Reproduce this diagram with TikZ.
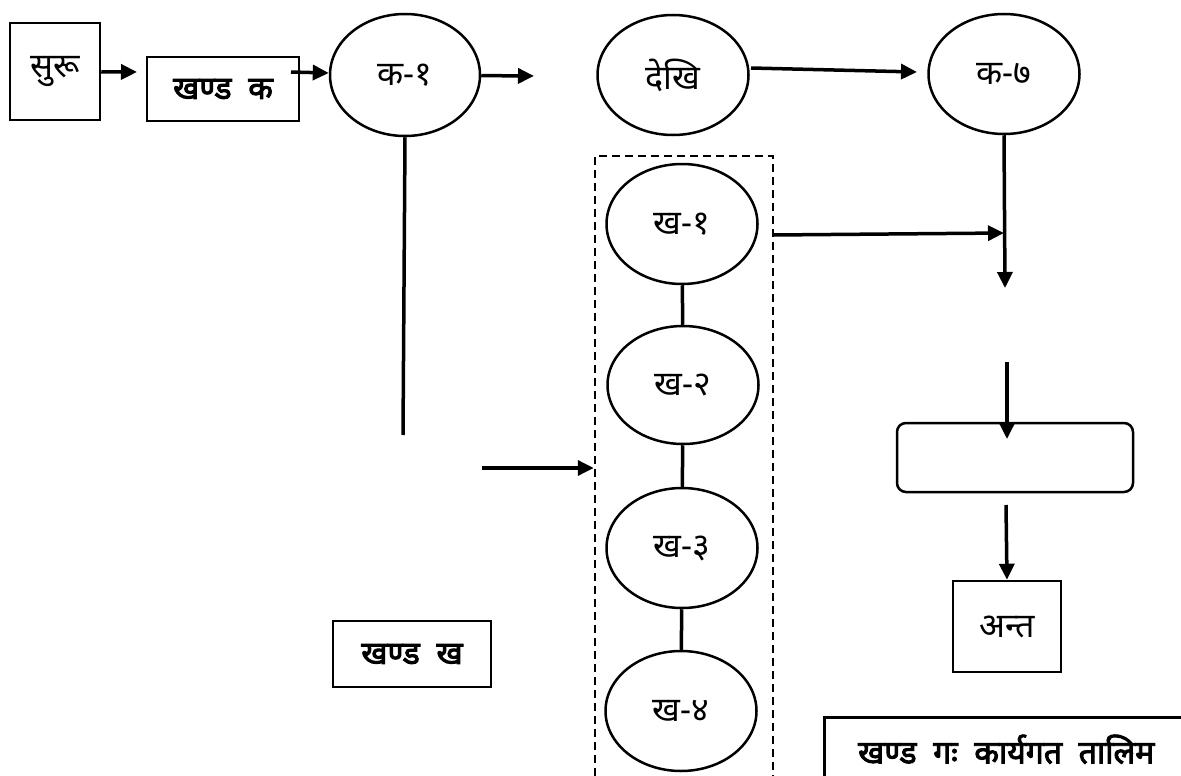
\documentclass[tikz,border=0pt]{standalone}
\usepackage{fontspec}
\newfontfamily\deva[Script=Devanagari]{Noto Sans}
\newfontfamily\devabold[Script=Devanagari,FakeBold=3,WordSpace=2]{Noto Sans}
\usepackage{tikz}
\usetikzlibrary{shapes.geometric,arrows.meta}
\tikzset{
  ell/.style={ellipse, draw, line width=2.5pt, minimum width=151pt, minimum height=120pt, inner sep=0pt, font=\deva\fontsize{34}{40}\selectfont},
  box/.style={rectangle, draw, line width=2.5pt, inner sep=0pt, font=\deva\fontsize{34}{40}\selectfont},
  boldbox/.style={box, font=\devabold\fontsize{32}{38}\selectfont},
  grp/.style={draw, line width=2.5pt, dash pattern=on 8pt off 5pt},
  arr/.style={line width=3.5pt, -{Triangle[length=16pt,width=15pt]}},
  conn/.style={line width=3.5pt},
}

\begin{document}
\begin{tikzpicture}[x=1pt,y=-1pt]
  \useasboundingbox (0,0) rectangle (1181,776);
  \node[box, minimum width=90pt, minimum height=97pt] (suru) at (55,71.5) {सुरू};
  \node[boldbox, minimum width=152pt, minimum height=64pt] (khka) at (223,89) {खण्ड क};
  \node[ell, minimum width=150pt, minimum height=122pt] (k1) at (405,75) {क-१};
  \node[ell] (dekhi) at (673,75) {देखि};
  \node[ell] (k7) at (1004,74) {क-७};
  \node[boldbox, minimum width=158pt, minimum height=66pt] (khkh) at (412,654) {खण्ड ख};
  \node[ell] (kh1) at (682,224) {ख-१};
  \node[ell, minimum height=118pt] (kh2) at (683,385) {ख-२};
  \node[ell] (kh3) at (682,548) {ख-३};
  \node[ell] (kh4) at (681,711) {ख-४};
  \node[box, rounded corners=9pt, minimum width=236pt, minimum height=69pt] (task) at (1015,457.5) {};
  \node[box, minimum width=108pt, minimum height=91pt] (anta) at (1007,626.5) {अन्त};
  \begin{scope}
    \clip (0,0) rectangle (1181,776);
    \node[grp, minimum width=178pt, minimum height=644pt] (grpkh) at (684,478) {};
    \node[boldbox, minimum width=364pt, minimum height=64pt, anchor=north west] (khga) at (823,716) {खण्ड गः कार्यगत तालिम};
  \end{scope}

  \coordinate (suru-tip) at (137,72);
  \coordinate (ka-out) at (291,72);
  \coordinate (k1-tip) at (534,76);
  \coordinate (d-out) at (751,68);
  \coordinate (k7-tip) at (917,72);
  \coordinate (k1-end) at (403,435);
  \coordinate (kb-out) at (482,468);
  \coordinate (kh1-out) at (773,235);
  \coordinate (k7-join) at (1004,233);
  \coordinate (k7-down) at (1005,288);
  \coordinate (r-in) at (1007,362);
  \coordinate (r-tip) at (1007,439);
  \coordinate (a-in) at (1006,505);

  \draw[arr] (suru) -- (suru-tip);
  \draw[arr] (ka-out) -- (k1);
  \draw[arr] (k1) -- (k1-tip);
  \draw[arr] (d-out) -- (k7-tip);
  \draw[conn] (k1.south) -- (k1-end);
  \draw[arr] (kb-out) -- (kb-out -| grpkh.west);
  \draw[conn] (kh1) -- (kh2);
  \draw[conn] (kh2) -- (kh3);
  \draw[conn] (kh3) -- (kh4);
  \draw[arr] (kh1-out) -- (k7-join);
  \draw[arr] (k7.south) -- (k7-down);
  \draw[arr] (r-in) -- (r-tip);
  \draw[arr] (a-in) -- (anta.north);
\end{tikzpicture}
\end{document}
